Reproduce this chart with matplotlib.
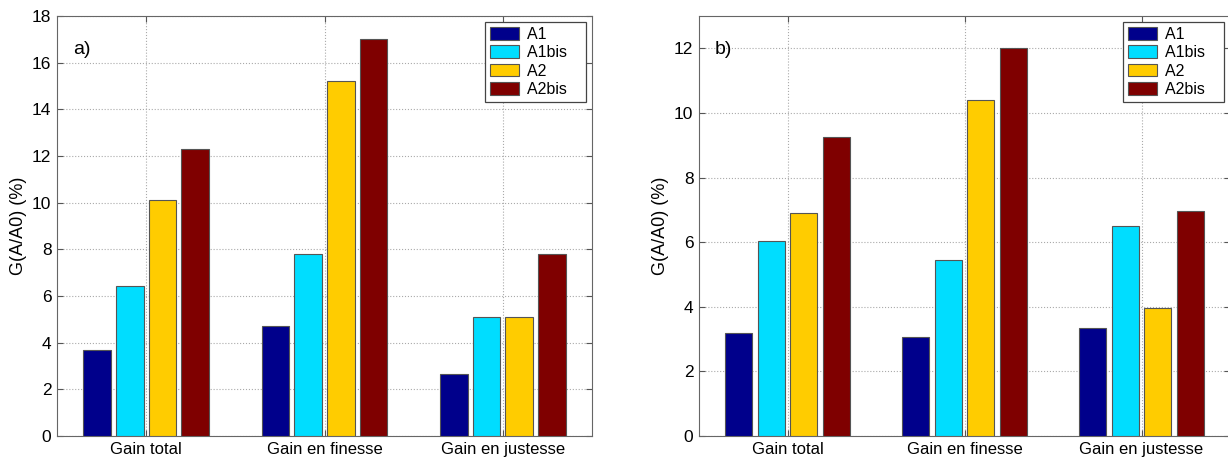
import numpy as np
import matplotlib.pyplot as plt

plt.rcParams['font.family'] = ['Liberation Sans', 'DejaVu Sans']

# données
categories = ["Gain total", "Gain en finesse", "Gain en justesse"]
series = ["A1", "A1bis", "A2", "A2bis"]
colors = ["#00008B", "#00DDFF", "#FFCC00", "#7F0000"]

gain_a = {
    "A1": [3.7, 4.7, 2.65],
    "A1bis": [6.45, 7.8, 5.1],
    "A2": [10.1, 15.2, 5.1],
    "A2bis": [12.3, 17.0, 7.78],
}
gain_b = {
    "A1": [3.2, 3.05, 3.35],
    "A1bis": [6.05, 5.45, 6.5],
    "A2": [6.9, 10.4, 3.95],
    "A2bis": [9.25, 12.0, 6.95],
}

fig = plt.figure(figsize=(12.28, 4.59), dpi=100)
ax_a = fig.add_axes([57 / 1228, 0.0501, 535 / 1228, 0.915])
ax_b = fig.add_axes([699 / 1228, 0.0501, 531 / 1228, 0.915])

x = np.arange(1, len(categories) + 1)
offsets = np.array([-0.275, -0.0915, 0.0915, 0.275])
width = 0.154


def draw(ax, data, ymax, yticks, tag):
    for k, s in enumerate(series):
        ax.bar(x + offsets[k], data[s], width, color=colors[k],
               edgecolor="#555555", linewidth=0.8, label=s + "   ", zorder=3)
    ax.set_xlim(0.5, 3.5)
    ax.set_ylim(0, ymax)
    ax.set_xticks(x)
    ax.set_xticklabels(categories, fontsize=12)
    ax.set_yticks(yticks)
    ax.tick_params(axis="y", labelsize=12.5)
    ax.tick_params(direction="in", top=True, right=True, length=4,
                   color="#555555", pad=4)
    ax.grid(True, linestyle=":", color="#aaaaaa", linewidth=0.8, zorder=0)
    for sp in ax.spines.values():
        sp.set_color("#666666")
    ax.set_ylabel("G(A/A0) (%)", fontsize=13)
    ax.text(0.03, 0.94, tag, transform=ax.transAxes, fontsize=14,
            va="top", ha="left")
    leg = ax.legend(loc="upper right", fontsize=11.5, fancybox=False,
                    framealpha=1, edgecolor="#444444", handlelength=1.8,
                    handleheight=0.85, labelspacing=0.2, borderpad=0.3,
                    handletextpad=0.55, borderaxespad=0.4)
    leg.get_frame().set_linewidth(0.9)


draw(ax_a, gain_a, 18, np.arange(0, 19, 2), "a)")
draw(ax_b, gain_b, 13, np.arange(0, 13, 2), "b)")

fig.savefig("out.png", dpi=100)
